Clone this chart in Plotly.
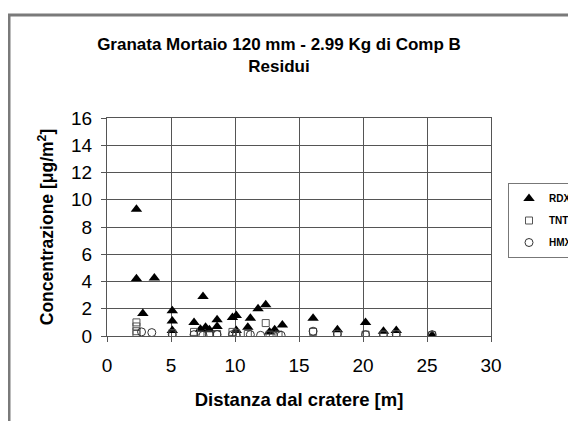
import plotly.graph_objects as go

# RDX (filled triangles)
rdx_x = [2.3, 2.3, 3.7, 2.8, 5.1, 5.1, 5.1, 6.8, 7.5, 7.3, 7.7, 8.0, 8.6, 8.6, 9.8, 10.1, 10.1,
         11.2, 11.0, 11.8, 12.4, 12.7, 13.1, 13.7, 16.1, 18.0, 20.2, 21.6, 22.6, 25.4]
rdx_y = [9.3, 4.2, 4.25, 1.65, 1.85, 1.1, 0.4, 1.0, 2.9, 0.5, 0.65, 0.45, 1.2, 0.7, 1.35, 1.5, 0.4,
         1.3, 0.65, 2.0, 2.3, 0.3, 0.45, 0.8, 1.3, 0.45, 1.0, 0.35, 0.4, 0.05]

# TNT (open squares)
tnt_x = [2.3, 2.3, 2.3, 2.3, 5.1, 6.8, 7.3, 8.0, 8.6, 9.8, 10.1, 11.0, 12.4, 12.7, 13.4,
         16.1, 18.0, 20.2, 21.6, 22.6, 25.4]
tnt_y = [1.0, 0.7, 0.35, 0.15, 0.2, 0.3, 0.1, 0.1, 0.15, 0.3, 0.2, 0.15, 0.95, 0.1, 0.1,
         0.3, 0.15, 0.1, 0.1, 0.15, 0.05]

# HMX (open circles)
hmx_x = [2.7, 3.5, 5.1, 6.8, 7.5, 8.0, 8.6, 9.8, 10.1, 11.2, 12.0, 13.0, 13.6,
         16.1, 18.0, 20.2, 21.6, 22.6, 25.4]
hmx_y = [0.3, 0.25, 0.1, 0.1, 0.05, 0.1, 0.1, 0.1, 0.05, 0.1, 0.05, 0.05, 0.05,
         0.35, 0.15, 0.1, 0.1, 0.1, 0.1]

x_ticks = [0, 5, 10, 15, 20, 25, 30]
y_ticks = [0, 2, 4, 6, 8, 10, 12, 14, 16]

FONT = "Liberation Sans, Arial, sans-serif"

# plot area in figure pixels (page body adds an 8px offset)
W, H = 568, 413
PL, PR, PT, PB = 99, 483, 110, 328
PW, PH = PR - PL, PB - PT

fig = go.Figure()
fig.add_trace(go.Scatter(x=rdx_x, y=rdx_y, mode="markers", name="<b>RDX</b>", legendgroup="a",
                         marker=dict(symbol="triangle-up", size=10, color="black",
                                     line=dict(width=0))))
fig.add_trace(go.Scatter(x=tnt_x, y=tnt_y, mode="markers", name="<b>TNT</b>", legendgroup="b",
                         marker=dict(symbol="square-open", size=7, color="#555555",
                                     line=dict(width=1))))
fig.add_trace(go.Scatter(x=hmx_x, y=hmx_y, mode="markers", name="<b>HMX</b>", legendgroup="c",
                         marker=dict(symbol="circle-open", size=8, color="#333333",
                                     line=dict(width=1))))

# chart-area frame
fig.add_shape(type="rect", xref="paper", yref="paper",
              x0=(1 - PL) / PW, x1=2.0, y0=-1.0, y1=(PB - 7) / PH,
              line=dict(color="#7a7a7a", width=3), fillcolor="rgba(0,0,0,0)", layer="below")

fig.update_layout(
    width=W, height=H,
    margin=dict(l=PL, r=W - PR, t=PT, b=H - PB, autoexpand=False),
    paper_bgcolor="white", plot_bgcolor="white",
    font=dict(family=FONT, color="black"),
    title=dict(text="<b>Granata Mortaio 120 mm - 2.99 Kg di Comp B<br>Residui</b>",
               x=271 / W, xanchor="center", y=1 - 42 / H, yanchor="top",
               font=dict(size=17, family=FONT, color="black")),
    showlegend=True,
    legend=dict(x=(500 - PL) / PW, xanchor="left", y=(PB - 175) / PH, yanchor="top",
                bordercolor="#777777", borderwidth=1, bgcolor="white",
                font=dict(size=10, family=FONT, color="black"),
                tracegroupgap=3, traceorder="grouped", itemwidth=30),
    xaxis=dict(range=[0, 30], tickvals=x_ticks, ticktext=[str(v) for v in x_ticks],
               showgrid=True, gridcolor="#555555", gridwidth=1,
               showline=True, linecolor="#555555", linewidth=1, mirror=True,
               ticks="outside", ticklen=5, tickcolor="#555555",
               tickfont=dict(size=19, family=FONT), zeroline=False, ticklabelstandoff=7,
               title=dict(text="<b>Distanza dal cratere [m]</b>", font=dict(size=18.5, family=FONT),
                          standoff=18)),
    yaxis=dict(range=[0, 16], tickvals=y_ticks, ticktext=[str(v) for v in y_ticks],
               showgrid=True, gridcolor="#555555", gridwidth=1,
               showline=True, linecolor="#555555", linewidth=1, mirror=True,
               ticks="outside", ticklen=5, tickcolor="#555555",
               tickfont=dict(size=19, family=FONT), zeroline=False, ticklabelstandoff=5,
               title=dict(text="<b>Concentrazione [μg/m<sup>2</sup>]</b>",
                          font=dict(size=17.5, family=FONT), standoff=12)),
)

fig.write_html("out.html")
